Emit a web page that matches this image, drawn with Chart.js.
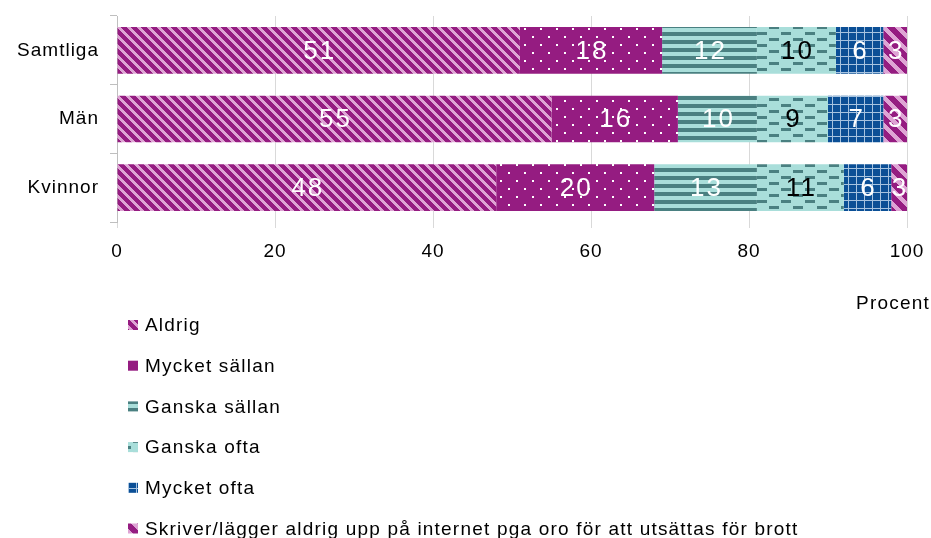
<!DOCTYPE html>
<html>
<head>
<meta charset="utf-8">
<script src="https://cdn.jsdelivr.net/npm/chart.js@4/dist/chart.umd.min.js"></script>
<style>
  body { margin: 0; background: #fff; }
  canvas { display: block; }
</style>
</head>
<body>
<canvas id="chart" width="931" height="538"></canvas>
<script>
const categories = ["Samtliga", "Män", "Kvinnor"];
const seriesNames = ["Aldrig", "Mycket sällan", "Ganska sällan", "Ganska ofta", "Mycket ofta",
    "Skriver/lägger aldrig upp på internet pga oro för att utsättas för brott"];
const aldrig = [51, 55, 48];
const mycketSallan = [18, 16, 20];
const ganskaSallan = [12, 10, 13];
const ganskaOfta = [10, 9, 11];
const mycketOfta = [6, 7, 6];
const skriver = [3, 3, 3];
const xTicks = [0, 20, 40, 60, 80, 100];

const PURPLE = "#951c81", PINK = "#dea4d4", TEAL_L = "#a9deda", TEAL_D = "#4a8081", BLUE = "#0b4f96";
const FONT = "'Liberation Sans', Arial, sans-serif";

const ctx = document.getElementById("chart").getContext("2d");

function makePattern(w, h, draw) {
    const c = document.createElement("canvas");
    c.width = w; c.height = h;
    draw(c.getContext("2d"));
    return ctx.createPattern(c, "repeat");
}

// pixel stair-step diagonal stripes, top-left to bottom-right
function diag(size, width) {
    return makePattern(size, size, g => {
        g.fillStyle = PURPLE; g.fillRect(0, 0, size, size);
        g.fillStyle = PINK;
        for (let y = 0; y < size; y++)
            for (let x = 0; x < size; x++)
                if (((x - y) % size + size) % size < width) g.fillRect(x, y, 1, 1);
    });
}

const patterns = [
    diag(10, 4),
    makePattern(16, 16, g => {
        g.fillStyle = PURPLE; g.fillRect(0, 0, 16, 16);
        g.fillStyle = "#fff"; g.fillRect(4, 4, 2, 2); g.fillRect(12, 12, 2, 2);
    }),
    makePattern(8, 8, g => {
        g.fillStyle = TEAL_L; g.fillRect(0, 0, 8, 8);
        g.fillStyle = TEAL_D; g.fillRect(0, 0, 8, 4);
    }),
    makePattern(24, 12, g => {
        g.fillStyle = TEAL_L; g.fillRect(0, 0, 24, 12);
        g.fillStyle = TEAL_D; g.fillRect(1, 2, 10, 3); g.fillRect(13, 8, 10, 3);
    }),
    makePattern(8, 8, g => {
        g.fillStyle = "#a6c3e0"; g.fillRect(0, 0, 8, 8);
        g.fillStyle = BLUE; g.fillRect(1, 1, 7, 7);
    }),
    diag(14, 6)
];

const seriesData = [aldrig, mycketSallan, ganskaSallan, ganskaOfta, mycketOfta, skriver];
const labelColors = ["#fff", "#fff", "#fff", "#000", "#fff", "#fff"];

const spacing = {
    id: "spacing",
    beforeUpdate(chart) { chart.ctx.letterSpacing = "1px"; },
    beforeDraw(chart) { chart.ctx.letterSpacing = "1px"; }
};

const barLabels = {
    id: "barLabels",
    afterDatasetsDraw(chart) {
        const c = chart.ctx, area = chart.chartArea;
        c.save();
        c.font = "26px " + FONT;
        c.letterSpacing = "2px";
        c.textAlign = "center";
        c.textBaseline = "middle";
        chart.data.datasets.forEach((ds, i) => {
            chart.getDatasetMeta(i).data.forEach((bar, j) => {
                const { x, y, base } = bar.getProps(["x", "y", "base"], true);
                const l = Math.min(x, base), r = Math.min(Math.max(x, base), area.right);
                c.fillStyle = labelColors[i];
                c.fillText(String(ds.data[j]), (l + r) / 2 + 1, y + 1);
            });
        });
        c.restore();
    }
};

const sideLegend = {
    id: "sideLegend",
    afterDraw(chart) {
        const c = chart.ctx;
        c.save();
        c.letterSpacing = "1.2px";
        c.font = "19px " + FONT;
        c.fillStyle = "#000";
        c.textBaseline = "middle";
        c.textAlign = "right";
        c.fillText("Procent", 930, 304);
        c.textAlign = "left";
        chart.data.datasets.forEach((ds, i) => {
            const y = 325 + i * 40.7;
            c.fillStyle = ds.backgroundColor;
            c.fillRect(128, y - 5, 10, 10);
            c.fillStyle = "#000";
            c.fillText(ds.label, 145, y + 1);
        });
        c.restore();
    }
};

new Chart(ctx, {
    type: "bar",
    data: {
        labels: categories,
        datasets: seriesNames.map((name, i) => ({
            label: name,
            data: seriesData[i],
            backgroundColor: patterns[i],
            borderWidth: 0,
            barPercentage: 0.68,
            categoryPercentage: 1
        }))
    },
    options: {
        indexAxis: "y",
        responsive: false,
        animation: false,
        layout: { padding: { top: 16, right: 24, bottom: 276, left: 0 } },
        scales: {
            x: {
                stacked: true,
                min: 0, max: 100,
                afterFit: s => { s.height = 40; s.paddingLeft = 0; s.paddingRight = 0; },
                afterBuildTicks: s => { s.ticks = xTicks.map(v => ({ value: v })); },
                grid: { color: "#d9d9d9", tickLength: 6 },
                border: { display: false },
                ticks: { color: "#000", padding: 12, font: { size: 19, family: FONT } }
            },
            y: {
                stacked: true,
                afterFit: s => { s.width = 117; s.paddingTop = 0; s.paddingBottom = 0; },
                grid: { drawOnChartArea: false, color: "#bfbfbf", tickLength: 7 },
                border: { color: "#bfbfbf" },
                ticks: { color: "#000", padding: 11, font: { size: 19, family: FONT } }
            }
        },
        plugins: { legend: { display: false }, tooltip: { enabled: false } }
    },
    plugins: [spacing, barLabels, sideLegend]
});
</script>
</body>
</html>
